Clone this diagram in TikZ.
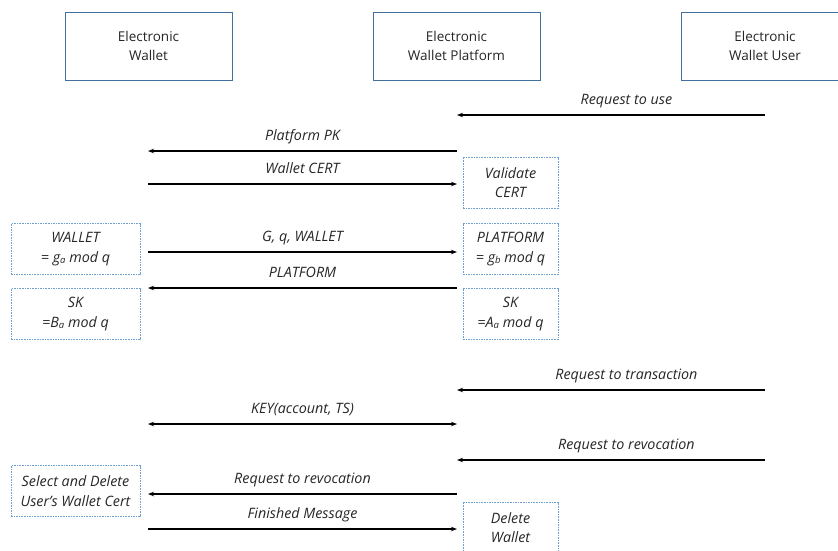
\documentclass[tikz,border=0pt]{standalone}
\usepackage{fontspec}
\setmainfont{Open Sans}
\usetikzlibrary{arrows.meta}
\definecolor{txt}{HTML}{262626}
\definecolor{boxline}{HTML}{41719C}
\definecolor{dashline}{HTML}{6F9FD0}
\tikzset{
  party/.style={draw=boxline, line width=0.8pt, fill=white, minimum width=167pt,
    minimum height=68pt, align=center, text=txt, font=\fontsize{13.5}{19}\selectfont},
  notebox/.style={draw=dashline, line width=0.8pt, dash pattern=on 1.6pt off 1pt,
    minimum height=51pt, align=center, text=txt, inner sep=1pt,
    font=\fontsize{14.3}{19.5}\selectfont\itshape},
  leftnote/.style={notebox, minimum width=129pt},
  rightnote/.style={notebox, minimum width=95pt},
  msg/.style={line width=1.3pt, -{Stealth[length=6pt,width=4.5pt]}},
  dmsg/.style={line width=1.3pt, {Stealth[length=6pt,width=4.5pt]}-{Stealth[length=6pt,width=4.5pt]}},
  lbl/.style={anchor=base, inner sep=0pt, yshift=10.5pt, text=txt,
    font=\fontsize{14.3}{16}\selectfont\itshape},
}
\newcommand{\lowsub}[1]{\raisebox{-0.15ex}{\fontsize{9.5}{9.5}\selectfont #1}}
\begin{document}
\begin{tikzpicture}[x=1pt, y=-1pt]
\useasboundingbox (0,0) rectangle (838,550);

% participants
\node[party] (wal) at (148.5,46) {Electronic\\Wallet};
\node[party] (plat) at (456.5,46) {Electronic\\Wallet Platform};
\node[party, minimum width=168pt] (usr) at (765,46) {Electronic\\Wallet User};

% message end points on the three lifelines
\foreach \n/\y in {1/115, 2/151, 3/184, 4/252, 5/288, 6/390, 7/424, 8/460, 9/494, 10/529}{
  \coordinate (w\n) at (148,\y);
  \coordinate (p\n) at (457,\y);
  \coordinate (u\n) at (765,\y);
}

% local computations
\node[rightnote] (valid) at (510.5,182.5) {Validate\\CERT};
\node[leftnote] (wkey) at (75.5,249) {WALLET\\= g\lowsub{a} mod q};
\node[rightnote] (pkey) at (510.5,249) {PLATFORM\\= g\lowsub{b} mod q};
\node[leftnote] (wsk) at (75.5,314) {SK\\=B\lowsub{a} mod q};
\node[rightnote] (psk) at (510.5,314) {SK\\=A\lowsub{a} mod q};
\node[leftnote] (wdel) at (75.5,491) {Select and Delete\\User's Wallet Cert};
\node[rightnote] (pdel) at (510.5,527.5) {Delete\\Wallet};

% messages
\draw[msg] (u1) -- node[lbl, pos=0.45] {Request to use} (p1);
\draw[msg] (p2) -- node[lbl] {Platform PK} (w2);
\draw[msg] (w3) -- node[lbl] {Wallet CERT} (p3);
\draw[msg] (w4) -- node[lbl] {G, q, WALLET} (p4);
\draw[msg] (p5) -- node[lbl] {PLATFORM} (w5);
\draw[msg] (u6) -- node[lbl, pos=0.45] {Request to transaction} (p6);
\draw[dmsg] (w7) -- node[lbl] {KEY(account, TS)} (p7);
\draw[msg] (u8) -- node[lbl, pos=0.45] {Request to revocation} (p8);
\draw[msg] (p9) -- node[lbl] {Request to revocation} (w9);
\draw[msg] (w10) -- node[lbl] {Finished Message} (p10);
\end{tikzpicture}
\end{document}
